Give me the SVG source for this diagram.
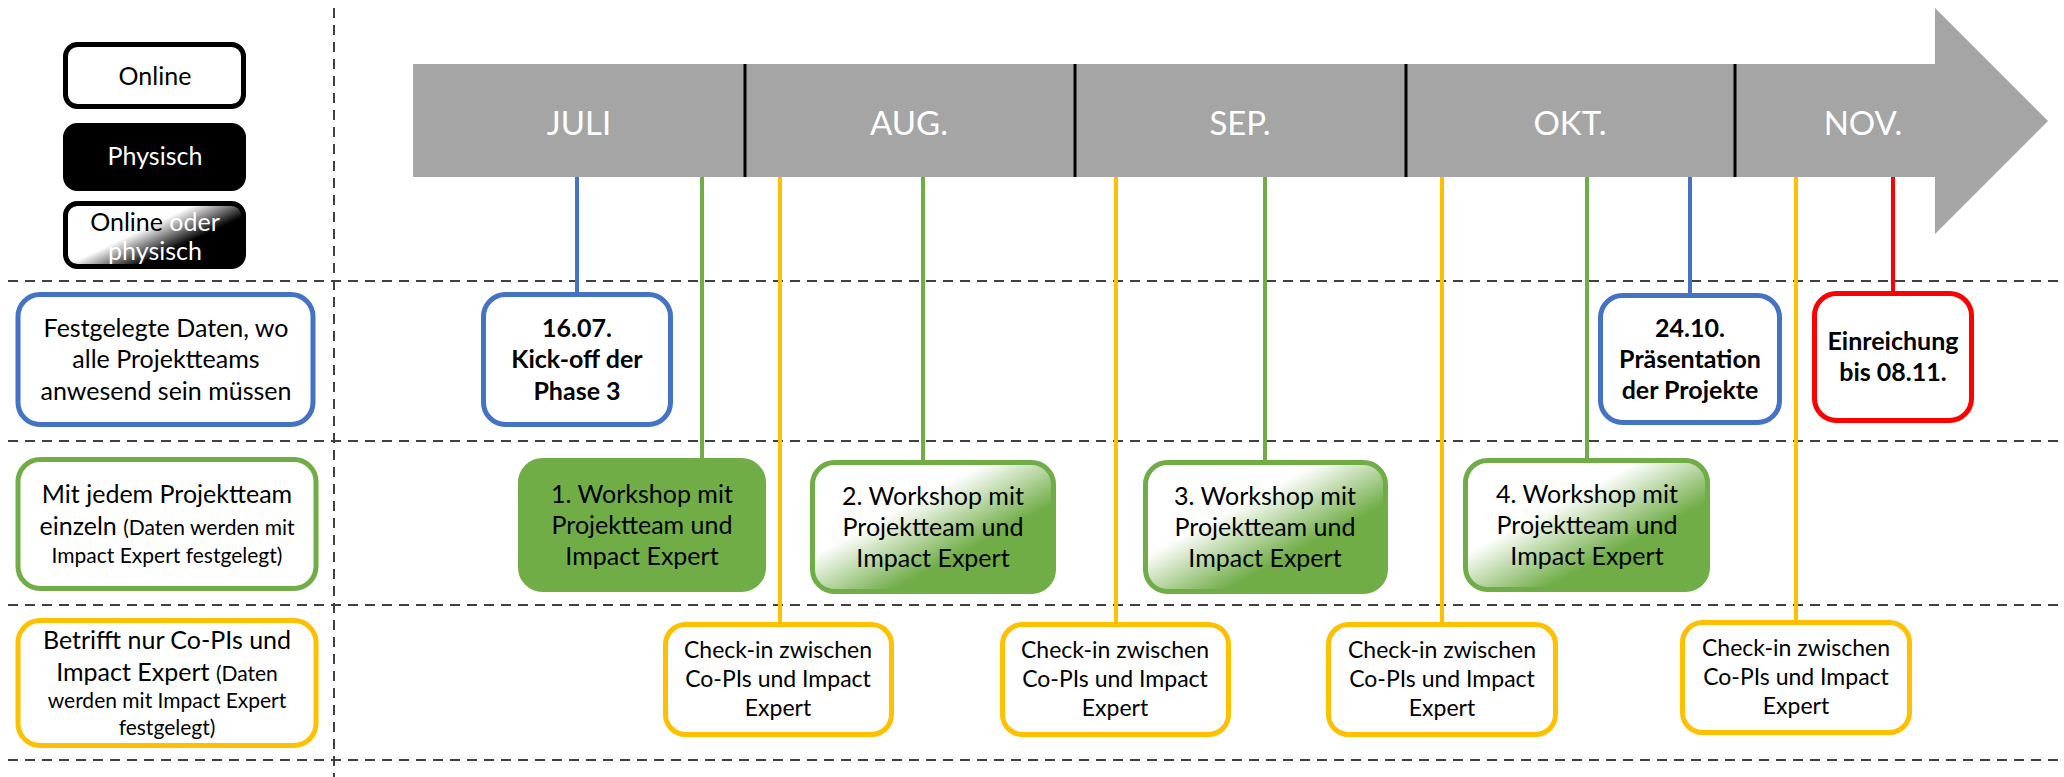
<svg xmlns="http://www.w3.org/2000/svg" width="2064" height="777" viewBox="0 0 2064 777">
  <style>
    .t { font-family: Lato, "Liberation Sans", sans-serif; font-size: 25px; fill: #000; text-anchor: middle; }
    .s { font-size: 21px; }
    .ci { font-size: 23px; }
    .b { font-weight: bold; }
    .w { fill: #fff; }
    .mon { font-size: 33px; fill: #fff; }
    .grid { stroke: #404040; stroke-width: 2; stroke-dasharray: 10 7; fill: none; }
    .conn { stroke-width: 4; fill: none; }
    .blue { stroke: #4472C4; }
    .green { stroke: #70AD47; }
    .gold { stroke: #FFC000; }
    .red { stroke: #FF0000; }
    .box { stroke-width: 5; fill: #fff; }
    .div { stroke: #000; stroke-width: 3; }
  </style>
  <defs>
    <!-- white-to-green fade used on the workshop boxes -->
    <linearGradient id="greenFade" x1="0" y1="0" x2="1" y2="1">
      <stop offset="0" stop-color="#ffffff"/>
      <stop offset="0.36" stop-color="#ffffff"/>
      <stop offset="0.66" stop-color="#70AD47"/>
      <stop offset="1" stop-color="#70AD47"/>
    </linearGradient>
    <!-- white-to-black fade for the "online or physical" legend key -->
    <linearGradient id="bwFade" gradientUnits="userSpaceOnUse" x1="144" y1="202" x2="178" y2="274">
      <stop offset="0" stop-color="#ffffff"/>
      <stop offset="0.3" stop-color="#ffffff"/>
      <stop offset="0.7" stop-color="#000000"/>
      <stop offset="1" stop-color="#000000"/>
    </linearGradient>
  </defs>

  <!-- lane separators -->
  <g id="grid">
    <line class="grid" x1="334" y1="8" x2="334" y2="777"/>
    <line class="grid" x1="8" y1="281" x2="2062" y2="281"/>
    <line class="grid" x1="8" y1="441" x2="2062" y2="441"/>
    <line class="grid" x1="8" y1="605" x2="2062" y2="605"/>
    <line class="grid" x1="8" y1="760" x2="2062" y2="760"/>
  </g>

  <!-- legend -->
  <g id="legend-online">
    <rect x="65.5" y="44.5" width="178" height="62" rx="12" fill="#fff" stroke="#000" stroke-width="5"/>
    <text class="t" x="155" y="85">Online</text>
  </g>
  <g id="legend-physisch">
    <rect x="65.5" y="125.5" width="178" height="63" rx="12" fill="#000" stroke="#000" stroke-width="5"/>
    <text class="t w" x="155" y="165">Physisch</text>
  </g>
  <g id="legend-hybrid">
    <rect x="65.5" y="203.5" width="178" height="63" rx="12" fill="url(#bwFade)" stroke="#000" stroke-width="5"/>
    <text class="t" x="155" y="231">Online <tspan class="w">oder</tspan></text>
    <text class="t w" x="155" y="260">physisch</text>
  </g>

  <!-- timeline arrow -->
  <g id="timeline">
    <polygon points="413,64 1935,64 1935,8 2048,121 1935,234 1935,177 413,177" fill="#A5A5A5"/>
    <line class="div" x1="745" y1="64" x2="745" y2="177"/>
    <line class="div" x1="1075" y1="64" x2="1075" y2="177"/>
    <line class="div" x1="1406" y1="64" x2="1406" y2="177"/>
    <line class="div" x1="1735" y1="64" x2="1735" y2="177"/>
    <text class="t mon" x="579" y="135">JULI</text>
    <text class="t mon" x="909" y="135">AUG.</text>
    <text class="t mon" x="1240" y="135">SEP.</text>
    <text class="t mon" x="1570" y="135">OKT.</text>
    <text class="t mon" x="1863" y="135">NOV.</text>
  </g>

  <!-- connectors from the timeline to the events -->
  <g id="connectors">
    <line class="conn blue" x1="577" y1="177" x2="577" y2="294"/>
    <line class="conn green" x1="702" y1="177" x2="702" y2="461"/>
    <line class="conn gold" x1="780" y1="177" x2="780" y2="624"/>
    <line class="conn green" x1="923" y1="177" x2="923" y2="463"/>
    <line class="conn gold" x1="1116" y1="177" x2="1116" y2="624"/>
    <line class="conn green" x1="1265" y1="177" x2="1265" y2="463"/>
    <line class="conn gold" x1="1442" y1="177" x2="1442" y2="624"/>
    <line class="conn green" x1="1587" y1="177" x2="1587" y2="461"/>
    <line class="conn blue" x1="1690" y1="177" x2="1690" y2="295"/>
    <line class="conn gold" x1="1796" y1="177" x2="1796" y2="622"/>
    <line class="conn red" x1="1893" y1="177" x2="1893" y2="293"/>
  </g>

  <!-- row labels -->
  <g id="label-fixed">
    <rect class="box blue" x="18" y="294.5" width="295" height="130" rx="22"/>
    <text class="t" x="166" y="337">Festgelegte Daten, wo</text>
    <text class="t" x="166" y="368">alle Projektteams</text>
    <text class="t" x="166" y="400">anwesend sein müssen</text>
  </g>
  <g id="label-teams">
    <rect class="box green" x="18" y="459.5" width="298" height="129" rx="22"/>
    <text class="t" x="167" y="503">Mit jedem Projektteam</text>
    <text class="t" x="167" y="535">einzeln <tspan class="s">(Daten werden mit</tspan></text>
    <text class="t s" x="167" y="563">Impact Expert festgelegt)</text>
  </g>
  <g id="label-copis">
    <rect class="box gold" x="18" y="620.5" width="298" height="125" rx="22"/>
    <text class="t" x="167" y="649">Betrifft nur Co-PIs und</text>
    <text class="t" x="167" y="681">Impact Expert <tspan class="s">(Daten</tspan></text>
    <text class="t s" x="167" y="708">werden mit Impact Expert</text>
    <text class="t s" x="167" y="735">festgelegt)</text>
  </g>

  <!-- fixed dates -->
  <g id="kickoff">
    <rect class="box blue" x="483.5" y="294.5" width="187" height="130" rx="22"/>
    <text class="t b" x="577" y="337">16.07.</text>
    <text class="t b" x="577" y="368">Kick-off der</text>
    <text class="t b" x="577" y="400">Phase 3</text>
  </g>
  <g id="praesentation">
    <rect class="box blue" x="1600.5" y="295.5" width="179" height="127" rx="22"/>
    <text class="t b" x="1690" y="337">24.10.</text>
    <text class="t b" x="1690" y="368">Präsentation</text>
    <text class="t b" x="1690" y="399">der Projekte</text>
  </g>
  <g id="einreichung">
    <rect class="box red" x="1814.5" y="293.5" width="157" height="127" rx="22"/>
    <text class="t b" x="1893" y="350">Einreichung</text>
    <text class="t b" x="1893" y="381">bis 08.11.</text>
  </g>

  <!-- workshops -->
  <g id="workshop-1">
    <rect class="box green" x="520.5" y="460.5" width="243" height="129" rx="22" fill="#70AD47" style="fill:#70AD47"/>
    <text class="t" x="642" y="503">1. Workshop mit</text>
    <text class="t" x="642" y="534">Projektteam und</text>
    <text class="t" x="642" y="565">Impact Expert</text>
  </g>
  <g id="workshop-2">
    <rect class="box green" x="812.5" y="462.5" width="241" height="129" rx="22" style="fill:url(#greenFade)"/>
    <text class="t" x="933" y="505">2. Workshop mit</text>
    <text class="t" x="933" y="536">Projektteam und</text>
    <text class="t" x="933" y="567">Impact Expert</text>
  </g>
  <g id="workshop-3">
    <rect class="box green" x="1145.5" y="462.5" width="240" height="129" rx="22" style="fill:url(#greenFade)"/>
    <text class="t" x="1265" y="505">3. Workshop mit</text>
    <text class="t" x="1265" y="536">Projektteam und</text>
    <text class="t" x="1265" y="567">Impact Expert</text>
  </g>
  <g id="workshop-4">
    <rect class="box green" x="1465.5" y="460.5" width="242" height="129" rx="22" style="fill:url(#greenFade)"/>
    <text class="t" x="1587" y="503">4. Workshop mit</text>
    <text class="t" x="1587" y="534">Projektteam und</text>
    <text class="t" x="1587" y="565">Impact Expert</text>
  </g>

  <!-- check-ins -->
  <g id="checkin-1">
    <rect class="box gold" x="665.5" y="624.5" width="226" height="110" rx="20"/>
    <text class="t ci" x="778" y="658">Check-in zwischen</text>
    <text class="t ci" x="778" y="687">Co-PIs und Impact</text>
    <text class="t ci" x="778" y="716">Expert</text>
  </g>
  <g id="checkin-2">
    <rect class="box gold" x="1002.5" y="624.5" width="226" height="110" rx="20"/>
    <text class="t ci" x="1115" y="658">Check-in zwischen</text>
    <text class="t ci" x="1115" y="687">Co-PIs und Impact</text>
    <text class="t ci" x="1115" y="716">Expert</text>
  </g>
  <g id="checkin-3">
    <rect class="box gold" x="1328.5" y="624.5" width="227" height="110" rx="20"/>
    <text class="t ci" x="1442" y="658">Check-in zwischen</text>
    <text class="t ci" x="1442" y="687">Co-PIs und Impact</text>
    <text class="t ci" x="1442" y="716">Expert</text>
  </g>
  <g id="checkin-4">
    <rect class="box gold" x="1682.5" y="622.5" width="227" height="110" rx="20"/>
    <text class="t ci" x="1796" y="656">Check-in zwischen</text>
    <text class="t ci" x="1796" y="685">Co-PIs und Impact</text>
    <text class="t ci" x="1796" y="714">Expert</text>
  </g>
</svg>
